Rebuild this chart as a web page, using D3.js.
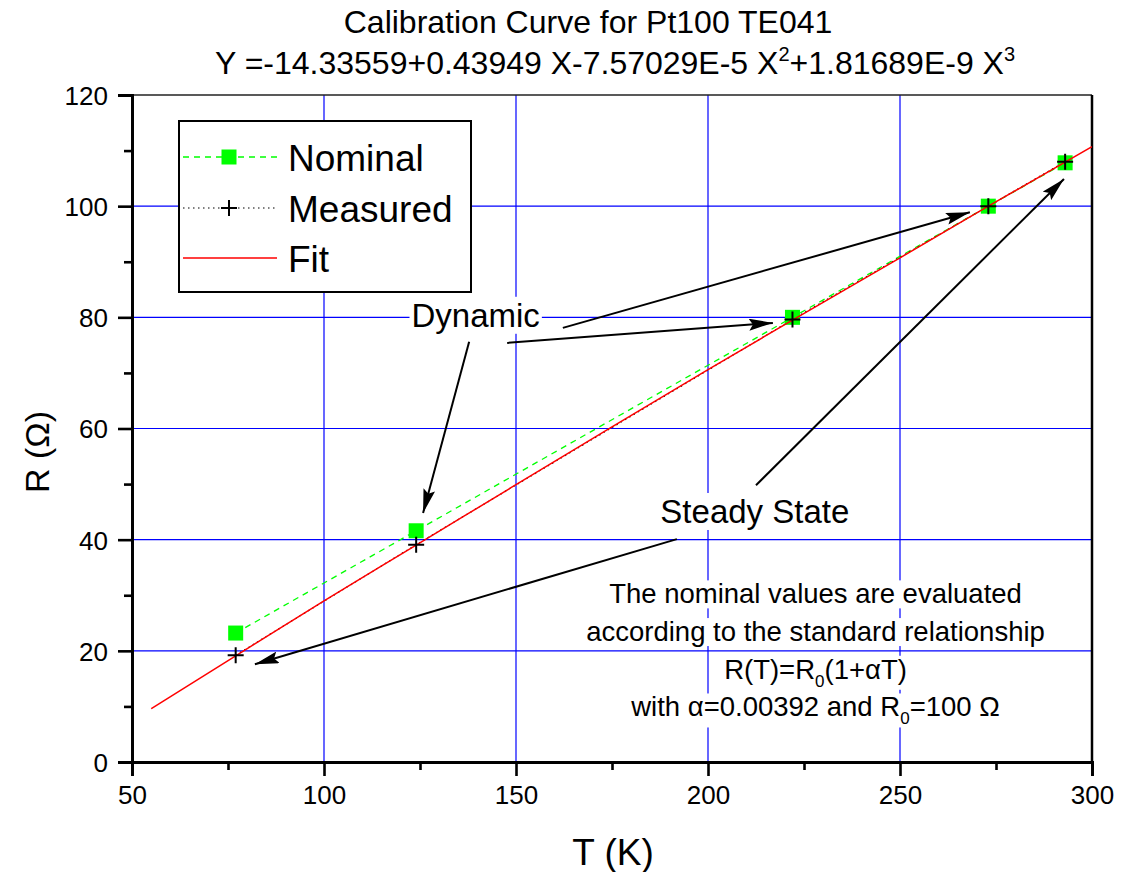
<!DOCTYPE html>
<html>
<head>
<meta charset="utf-8">
<script src="https://cdn.jsdelivr.net/npm/d3@7"></script>
<style>
  body { margin: 0; background: #fff; }
  svg { font-family: "Liberation Sans", Arial, sans-serif; }
</style>
</head>
<body>
<div id="chart"></div>
<script>
// Data
const temps = [77, 124, 222, 273, 293];
const nominalR = [23.2, 41.6, 80.0, 100.0, 107.8];
const measuredR = [19.2, 39.1, 79.6, 100.0, 108.0];

const fitT = [55, 77, 100, 124, 150, 175, 200, 222, 250, 273, 300];
const fitR = [9.6, 19.1, 29.0, 39.0, 49.9, 60.3, 70.6, 79.5, 90.7, 100.0, 110.7];

const xTicks = [50, 100, 150, 200, 250, 300];
const yTicks = [0, 20, 40, 60, 80, 100, 120];

const width = 1122;
const height = 872;
const margin = { top: 95, right: 30, bottom: 110, left: 132 };

const svg = d3.select('#chart')
    .append('svg')
    .attr('width', width)
    .attr('height', height);

const x = d3.scaleLinear().domain([50, 300]).range([margin.left, width - margin.right]);
const y = d3.scaleLinear().domain([0, 120]).range([height - margin.bottom, margin.top]);

const defs = svg.append('defs');
defs.append('clipPath').attr('id', 'plot-clip')
    .append('rect')
    .attr('x', x(50)).attr('y', y(120))
    .attr('width', x(300) - x(50)).attr('height', y(0) - y(120));

defs.append('marker')
    .attr('id', 'arrow')
    .attr('viewBox', '0 0 24 12')
    .attr('refX', 24).attr('refY', 6)
    .attr('markerWidth', 24).attr('markerHeight', 12)
    .attr('markerUnits', 'userSpaceOnUse')
    .attr('orient', 'auto')
    .append('path')
    .attr('d', 'M0,0 L24,6 L0,12 L4,6 Z')
    .attr('fill', '#000');

// Grid lines
const grid = svg.append('g');
grid.selectAll('.vgrid')
    .data(xTicks.filter(d => d > 50 && d < 300))
    .enter().append('line')
    .attr('x1', d => x(d)).attr('x2', d => x(d))
    .attr('y1', y(0)).attr('y2', y(120))
    .attr('stroke', '#0000ff').attr('stroke-width', 1.2);
grid.selectAll('.hgrid')
    .data(yTicks.filter(d => d > 0 && d < 120))
    .enter().append('line')
    .attr('x1', x(50)).attr('x2', x(300))
    .attr('y1', d => y(d)).attr('y2', d => y(d))
    .attr('stroke', '#0000ff').attr('stroke-width', 1.2);

// Top and right frame
svg.append('line')
    .attr('x1', x(50)).attr('x2', x(300)).attr('y1', y(120)).attr('y2', y(120))
    .attr('stroke', '#222').attr('stroke-width', 1.5);
svg.append('line')
    .attr('x1', x(300)).attr('x2', x(300)).attr('y1', y(120)).attr('y2', y(0))
    .attr('stroke', '#000').attr('stroke-width', 2.5);

// Axes
const xAxis = svg.append('g')
    .attr('transform', `translate(0,${y(0)})`)
    .call(d3.axisBottom(x).tickValues(xTicks).tickSize(14).tickPadding(10));
const xMinor = svg.append('g')
    .attr('transform', `translate(0,${y(0)})`)
    .call(d3.axisBottom(x).tickValues(d3.range(75, 300, 50)).tickSize(8).tickFormat(''));
const yAxis = svg.append('g')
    .attr('transform', `translate(${x(50)},0)`)
    .call(d3.axisLeft(y).tickValues(yTicks).tickSize(14).tickPadding(10));
const yMinor = svg.append('g')
    .attr('transform', `translate(${x(50)},0)`)
    .call(d3.axisLeft(y).tickValues(d3.range(10, 120, 20)).tickSize(8).tickFormat(''));

[xAxis, xMinor, yAxis, yMinor].forEach(g => {
    g.select('.domain').attr('stroke', '#000').attr('stroke-width', 2.8);
    g.selectAll('.tick line').attr('stroke', '#000').attr('stroke-width', 2.6);
    g.selectAll('.tick text')
        .attr('fill', '#000')
        .style('font-size', '26px')
        .style('font-family', '"Liberation Sans", Arial, sans-serif');
});
yAxis.selectAll('.tick text').attr('dy', '0.36em');

// Axis titles
svg.append('text')
    .attr('x', 613).attr('y', 865)
    .attr('text-anchor', 'middle')
    .style('font-size', '37px')
    .text('T (K)');
svg.append('text')
    .attr('transform', `translate(49,452) rotate(-90)`)
    .attr('text-anchor', 'middle')
    .style('font-size', '34px')
    .text('R (\u03A9)');

// Title
svg.append('text')
    .attr('x', 588).attr('y', 33)
    .attr('text-anchor', 'middle')
    .style('font-size', '32px')
    .text('Calibration Curve for Pt100 TE041');
const sub = svg.append('text')
    .attr('x', 615).attr('y', 74)
    .attr('text-anchor', 'middle')
    .style('font-size', '32px');
sub.append('tspan').text('Y =-14.33559+0.43949 X-7.57029E-5 X');
sub.append('tspan').attr('dy', -13).style('font-size', '20px').text('2');
sub.append('tspan').attr('dy', 13).text('+1.81689E-9 X');
sub.append('tspan').attr('dy', -13).style('font-size', '20px').text('3');

// Series
const plot = svg.append('g').attr('clip-path', 'url(#plot-clip)');
const nominal = temps.map((t, i) => ({ t, r: nominalR[i] }));
const measured = temps.map((t, i) => ({ t, r: measuredR[i] }));
const fit = fitT.map((t, i) => ({ t, r: fitR[i] }));

const line = d3.line().x(d => x(d.t)).y(d => y(d.r));
const smooth = d3.line().x(d => x(d.t)).y(d => y(d.r)).curve(d3.curveMonotoneX);

plot.append('path')
    .attr('d', line(nominal))
    .attr('fill', 'none')
    .attr('stroke', '#00ff00').attr('stroke-width', 1.3)
    .attr('stroke-dasharray', '6,5');
plot.append('path')
    .attr('d', line(measured))
    .attr('fill', 'none')
    .attr('stroke', '#000').attr('stroke-width', 1.2)
    .attr('stroke-dasharray', '1.5,3.5');
plot.selectAll('.sq')
    .data(nominal)
    .enter().append('rect')
    .attr('x', d => x(d.t) - 7.5).attr('y', d => y(d.r) - 7.5)
    .attr('width', 15).attr('height', 15)
    .attr('fill', '#00ff00');
plot.append('path')
    .attr('d', smooth(fit))
    .attr('fill', 'none')
    .attr('stroke', '#ff0000').attr('stroke-width', 1.5);
plot.selectAll('.plus')
    .data(measured)
    .enter().append('path')
    .attr('d', d => `M${x(d.t) - 8},${y(d.r)}h16M${x(d.t)},${y(d.r) - 8}v16`)
    .attr('stroke', '#000').attr('stroke-width', 2);

// Annotations (positions in data units)
function label(g, t, r, txt, size) {
    const el = g.append('text')
        .attr('x', x(t)).attr('y', y(r))
        .attr('text-anchor', 'middle')
        .style('font-size', size + 'px')
        .text(txt);
    const b = el.node().getBBox();
    g.insert('rect', 'text')
        .attr('x', b.x - 2).attr('y', b.y)
        .attr('width', b.width + 4).attr('height', b.height)
        .attr('fill', '#fff');
    return el;
}
const notes = svg.append('g');
label(notes.append('g'), 139.5, 78.3, 'Dynamic', 33);
label(notes.append('g'), 212.2, 43.0, 'Steady State', 33);

const arrows = [
    { from: [162.2, 78.1], to: [268.2, 98.9] },
    { from: [147.7, 75.4], to: [216.9, 79.0] },
    { from: [137.8, 75.6], to: [125.8, 44.8] },
    { from: [212.5, 49.8], to: [292.7, 104.9] },
    { from: [191.9, 40.1], to: [82.0, 17.6] }
];
notes.selectAll('.arrow')
    .data(arrows)
    .enter().append('line')
    .attr('x1', d => x(d.from[0])).attr('y1', d => y(d.from[1]))
    .attr('x2', d => x(d.to[0])).attr('y2', d => y(d.to[1]))
    .attr('stroke', '#000').attr('stroke-width', 2)
    .attr('marker-end', 'url(#arrow)');

// Explanatory note
const noteT = 228, noteR = 27.1, lineH = 37.7;
const noteLines = [
    [['The nominal values are evaluated']],
    [['according to the standard relationship']],
    [['R(T)=R'], ['0', 'sub'], ['(1+\u03B1T)']],
    [['with \u03B1=0.00392 and R'], ['0', 'sub'], ['=100 \u03A9']]
];
noteLines.forEach((parts, i) => {
    const g = svg.append('g');
    const el = g.append('text')
        .attr('x', x(noteT)).attr('y', y(noteR) + i * lineH)
        .attr('text-anchor', 'middle')
        .style('font-size', '27.5px');
    parts.forEach(p => {
        if (p[1] === 'sub') {
            el.append('tspan').attr('dy', 8).style('font-size', '17px').text(p[0]);
        } else {
            el.append('tspan').attr('dy', el.selectAll('tspan').size() ? -8 : 0).text(p[0]);
        }
    });
    const b = el.node().getBBox();
    g.insert('rect', 'text')
        .attr('x', b.x - 4).attr('y', b.y + 2)
        .attr('width', b.width + 8).attr('height', b.height - 3)
        .attr('fill', '#fff');
});

// Legend
const legend = svg.append('g');
legend.append('rect')
    .attr('x', 179).attr('y', 121).attr('width', 292).attr('height', 171)
    .attr('fill', '#fff').attr('stroke', '#000').attr('stroke-width', 2);
const legendRows = [
    { name: 'Nominal', y: 157 },
    { name: 'Measured', y: 208 },
    { name: 'Fit', y: 258 }
];
legend.append('line')
    .attr('x1', 183).attr('x2', 277).attr('y1', legendRows[0].y).attr('y2', legendRows[0].y)
    .attr('stroke', '#00ff00').attr('stroke-width', 1.3).attr('stroke-dasharray', '6,5');
legend.append('rect')
    .attr('x', 229 - 7.5).attr('y', legendRows[0].y - 7.5).attr('width', 15).attr('height', 15)
    .attr('fill', '#00ff00');
legend.append('line')
    .attr('x1', 183).attr('x2', 277).attr('y1', legendRows[1].y).attr('y2', legendRows[1].y)
    .attr('stroke', '#000').attr('stroke-width', 1.2).attr('stroke-dasharray', '1.5,3.5');
legend.append('path')
    .attr('d', `M221,${legendRows[1].y}h16M229,${legendRows[1].y - 8}v16`)
    .attr('stroke', '#000').attr('stroke-width', 2);
legend.append('line')
    .attr('x1', 183).attr('x2', 277).attr('y1', legendRows[2].y).attr('y2', legendRows[2].y)
    .attr('stroke', '#ff0000').attr('stroke-width', 1.5);
legend.selectAll('.lt')
    .data(legendRows)
    .enter().append('text')
    .attr('x', 288).attr('y', d => d.y + 14)
    .style('font-size', '37px')
    .text(d => d.name);
</script>
</body>
</html>
